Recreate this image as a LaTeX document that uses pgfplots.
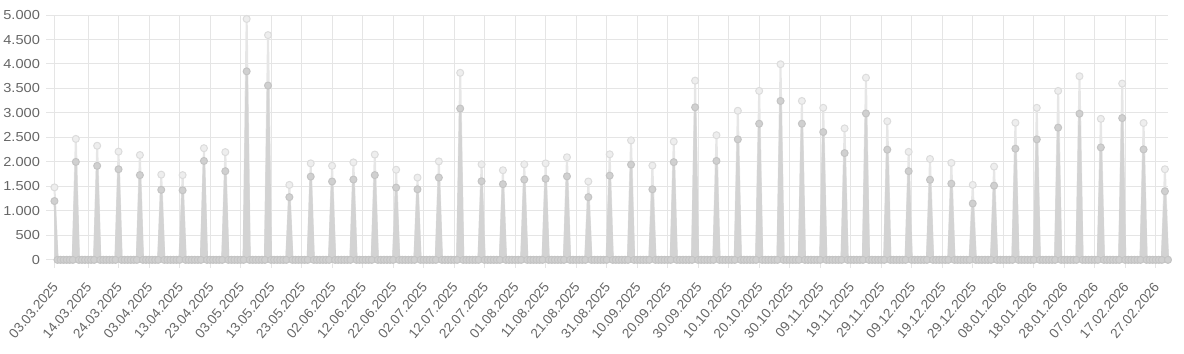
\documentclass[border=0pt]{standalone}
\usepackage{pgfplots}
\pgfplotsset{compat=1.18}
\usepackage{pgfplotstable}
\usepackage{fontspec}
\setmainfont{Liberation Sans}
\newfontfamily\ylabfont{Liberation Sans}[FakeStretch=1.12]
\definecolor{gridc}{HTML}{E5E5E5}
\definecolor{txt}{HTML}{666666}
\definecolor{lightline}{HTML}{E6E6E6}
\definecolor{lightfill}{HTML}{EEEEEE}
\definecolor{lightdraw}{HTML}{DCDCDC}
\definecolor{darkline}{HTML}{D3D3D3}
\definecolor{darkfill}{HTML}{D0D0D0}
\definecolor{darkdraw}{HTML}{C4C4C4}
\pgfplotstableread[row sep=\\]{
d dark light\\
0 1200 1480\\1 0 0\\2 0 0\\3 0 0\\4 0 0\\5 0 0\\6 0 0\\
7 2000 2470\\8 0 0\\9 0 0\\10 0 0\\11 0 0\\12 0 0\\13 0 0\\
14 1920 2330\\15 0 0\\16 0 0\\17 0 0\\18 0 0\\19 0 0\\20 0 0\\
21 1850 2210\\22 0 0\\23 0 0\\24 0 0\\25 0 0\\26 0 0\\27 0 0\\
28 1730 2140\\29 0 0\\30 0 0\\31 0 0\\32 0 0\\33 0 0\\34 0 0\\
35 1430 1740\\36 0 0\\37 0 0\\38 0 0\\39 0 0\\40 0 0\\41 0 0\\
42 1420 1730\\43 0 0\\44 0 0\\45 0 0\\46 0 0\\47 0 0\\48 0 0\\
49 2020 2280\\50 0 0\\51 0 0\\52 0 0\\53 0 0\\54 0 0\\55 0 0\\
56 1810 2200\\57 0 0\\58 0 0\\59 0 0\\60 0 0\\61 0 0\\62 0 0\\
63 3850 4920\\64 0 0\\65 0 0\\66 0 0\\67 0 0\\68 0 0\\69 0 0\\
70 3560 4590\\71 0 0\\72 0 0\\73 0 0\\74 0 0\\75 0 0\\76 0 0\\
77 1280 1530\\78 0 0\\79 0 0\\80 0 0\\81 0 0\\82 0 0\\83 0 0\\
84 1700 1970\\85 0 0\\86 0 0\\87 0 0\\88 0 0\\89 0 0\\90 0 0\\
91 1600 1920\\92 0 0\\93 0 0\\94 0 0\\95 0 0\\96 0 0\\97 0 0\\
98 1640 1990\\99 0 0\\100 0 0\\101 0 0\\102 0 0\\103 0 0\\104 0 0\\
105 1730 2150\\106 0 0\\107 0 0\\108 0 0\\109 0 0\\110 0 0\\111 0 0\\
112 1475 1840\\113 0 0\\114 0 0\\115 0 0\\116 0 0\\117 0 0\\118 0 0\\
119 1440 1680\\120 0 0\\121 0 0\\122 0 0\\123 0 0\\124 0 0\\125 0 0\\
126 1680 2010\\127 0 0\\128 0 0\\129 0 0\\130 0 0\\131 0 0\\132 0 0\\
133 3090 3820\\134 0 0\\135 0 0\\136 0 0\\137 0 0\\138 0 0\\139 0 0\\
140 1605 1950\\141 0 0\\142 0 0\\143 0 0\\144 0 0\\145 0 0\\146 0 0\\
147 1545 1830\\148 0 0\\149 0 0\\150 0 0\\151 0 0\\152 0 0\\153 0 0\\
154 1640 1950\\155 0 0\\156 0 0\\157 0 0\\158 0 0\\159 0 0\\160 0 0\\
161 1655 1970\\162 0 0\\163 0 0\\164 0 0\\165 0 0\\166 0 0\\167 0 0\\
168 1705 2095\\169 0 0\\170 0 0\\171 0 0\\172 0 0\\173 0 0\\174 0 0\\
175 1280 1600\\176 0 0\\177 0 0\\178 0 0\\179 0 0\\180 0 0\\181 0 0\\
182 1720 2155\\183 0 0\\184 0 0\\185 0 0\\186 0 0\\187 0 0\\188 0 0\\
189 1945 2440\\190 0 0\\191 0 0\\192 0 0\\193 0 0\\194 0 0\\195 0 0\\
196 1440 1925\\197 0 0\\198 0 0\\199 0 0\\200 0 0\\201 0 0\\202 0 0\\
203 1995 2415\\204 0 0\\205 0 0\\206 0 0\\207 0 0\\208 0 0\\209 0 0\\
210 3115 3660\\211 0 0\\212 0 0\\213 0 0\\214 0 0\\215 0 0\\216 0 0\\
217 2020 2545\\218 0 0\\219 0 0\\220 0 0\\221 0 0\\222 0 0\\223 0 0\\
224 2460 3045\\225 0 0\\226 0 0\\227 0 0\\228 0 0\\229 0 0\\230 0 0\\
231 2780 3450\\232 0 0\\233 0 0\\234 0 0\\235 0 0\\236 0 0\\237 0 0\\
238 3245 3995\\239 0 0\\240 0 0\\241 0 0\\242 0 0\\243 0 0\\244 0 0\\
245 2780 3245\\246 0 0\\247 0 0\\248 0 0\\249 0 0\\250 0 0\\251 0 0\\
252 2610 3105\\253 0 0\\254 0 0\\255 0 0\\256 0 0\\257 0 0\\258 0 0\\
259 2180 2685\\260 0 0\\261 0 0\\262 0 0\\263 0 0\\264 0 0\\265 0 0\\
266 2990 3720\\267 0 0\\268 0 0\\269 0 0\\270 0 0\\271 0 0\\272 0 0\\
273 2250 2830\\274 0 0\\275 0 0\\276 0 0\\277 0 0\\278 0 0\\279 0 0\\
280 1810 2205\\281 0 0\\282 0 0\\283 0 0\\284 0 0\\285 0 0\\286 0 0\\
287 1635 2060\\288 0 0\\289 0 0\\290 0 0\\291 0 0\\292 0 0\\293 0 0\\
294 1555 1980\\295 0 0\\296 0 0\\297 0 0\\298 0 0\\299 0 0\\300 0 0\\
301 1150 1530\\302 0 0\\303 0 0\\304 0 0\\305 0 0\\306 0 0\\307 0 0\\
308 1515 1905\\309 0 0\\310 0 0\\311 0 0\\312 0 0\\313 0 0\\314 0 0\\
315 2270 2800\\316 0 0\\317 0 0\\318 0 0\\319 0 0\\320 0 0\\321 0 0\\
322 2460 3105\\323 0 0\\324 0 0\\325 0 0\\326 0 0\\327 0 0\\328 0 0\\
329 2700 3450\\330 0 0\\331 0 0\\332 0 0\\333 0 0\\334 0 0\\335 0 0\\
336 2985 3750\\337 0 0\\338 0 0\\339 0 0\\340 0 0\\341 0 0\\342 0 0\\
343 2295 2880\\344 0 0\\345 0 0\\346 0 0\\347 0 0\\348 0 0\\349 0 0\\
350 2895 3600\\351 0 0\\352 0 0\\353 0 0\\354 0 0\\355 0 0\\356 0 0\\
357 2255 2795\\358 0 0\\359 0 0\\360 0 0\\361 0 0\\362 0 0\\363 0 0\\
364 1400 1850\\365 0 0\\
}\data
\begin{document}
\begin{tikzpicture}
\begin{axis}[
  scale only axis, width=1110pt, height=244pt,
  xmin=0, xmax=365, ymin=0, ymax=5000,
  axis x line*=bottom, axis y line*=left,
  axis line style={gridc, line width=1pt},
  grid=major, grid style={gridc, line width=1pt},
  xtick={0,11,21,31,41,51,61,71,81,91,101,111,121,131,141,151,161,171,181,191,201,211,221,231,241,251,261,271,281,291,301,311,321,331,341,351,361},
  xticklabels={03.03.2025,14.03.2025,24.03.2025,03.04.2025,13.04.2025,23.04.2025,03.05.2025,13.05.2025,23.05.2025,02.06.2025,12.06.2025,22.06.2025,02.07.2025,12.07.2025,22.07.2025,01.08.2025,11.08.2025,21.08.2025,31.08.2025,10.09.2025,20.09.2025,30.09.2025,10.10.2025,20.10.2025,30.10.2025,09.11.2025,19.11.2025,29.11.2025,09.12.2025,19.12.2025,29.12.2025,08.01.2026,18.01.2026,28.01.2026,07.02.2026,17.02.2026,27.02.2026},
  ytick={0,500,1000,1500,2000,2500,3000,3500,4000,4500,5000},
  scaled y ticks=false,
  tick align=outside, major tick length=8pt,
  tick style={gridc, line width=1pt},
  yticklabel style={font=\ylabfont\fontsize{13}{13}\selectfont, text=txt, xshift=-3pt},
  xticklabel style={font=\fontsize{13.5}{13.5}\selectfont, text=txt, xshift=3pt, yshift=-14pt, rotate=50, anchor=east},
  /pgf/number format/1000 sep={.},
  /pgf/number format/assume math mode=true,
  clip=false,
]
\coordinate (ne) at (rel axis cs:1,1);
\coordinate (sw) at (rel axis cs:0,0);
\addplot[draw=none, fill=lightline] table[x=d, y=light]{\data} \closedcycle;
\addplot[lightline, line width=2pt, line join=round, mark=*, mark size=3.5pt,
  mark options={fill=lightfill, draw=lightdraw, line width=1pt}] table[x=d, y=light]{\data};
\addplot[draw=none, fill=darkline] table[x=d, y=dark]{\data} \closedcycle;
\addplot[darkline, line width=2pt, line join=round, mark=*, mark size=3.5pt,
  mark options={fill=darkfill, draw=darkdraw, line width=1pt}] table[x=d, y=dark]{\data};
\end{axis}
\path (ne) ++(16pt,15pt);
\path (sw) ++(0,-93pt);
\end{tikzpicture}
\end{document}
